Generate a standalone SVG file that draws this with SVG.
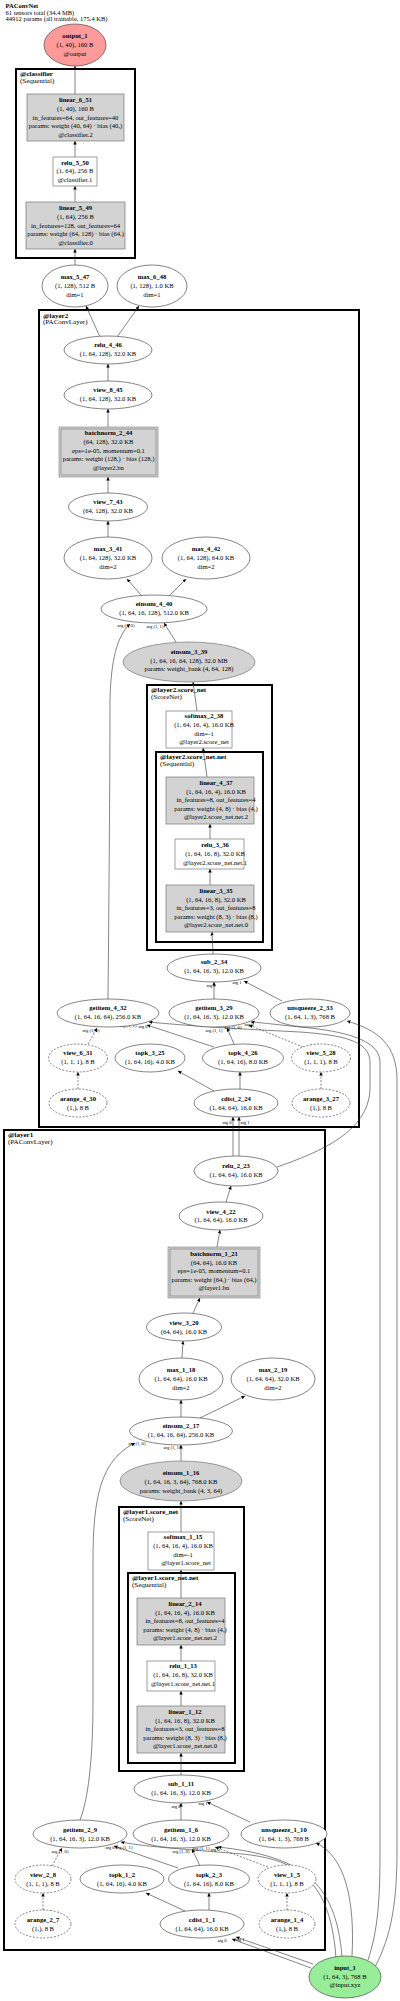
<svg xmlns="http://www.w3.org/2000/svg" width="400" height="2001" viewBox="0 0 400 2001">
<style>
text{font-family:"Liberation Serif","Times New Roman",serif;fill:#000}
.t{font-size:6.6px;text-anchor:middle}
.b{font-weight:bold}
.h{font-size:6.5px}
.cl{font-size:7px}
.el{font-size:4.6px;text-anchor:middle}
.n{fill:#fff;stroke:#333;stroke-width:0.6}
.g{fill:#d3d3d3;stroke:#777;stroke-width:0.7}
.g2{fill:#d3d3d3;stroke:#666;stroke-width:0.5}
.r{fill:#fff;stroke:#777;stroke-width:0.7}
.d{fill:#fff;stroke:#333;stroke-width:0.6;stroke-dasharray:2,1.5}
.c{fill:none;stroke:#000;stroke-width:2}
.e{fill:none;stroke:#333;stroke-width:0.6;marker-end:url(#a)}
.ed{fill:none;stroke:#333;stroke-width:0.6;stroke-dasharray:2,1.5;marker-end:url(#a)}
</style>
<defs>
<marker id="a" viewBox="0 0 10 10" refX="10" refY="5" markerWidth="3.5" markerHeight="3.5" orient="auto" markerUnits="userSpaceOnUse"><path d="M0,0 L10,5 L0,10 z" fill="#000"/></marker>
</defs>
<rect width="400" height="2001" fill="#fff"/>
<g id="title">
<text class="h b" x="5.5" y="8.3">PAConvNet</text>
<text class="h" x="5.5" y="14.6">61 tensors total (34.4 MB)</text>
<text class="h" x="5.5" y="21.2">44912 params (all trainable, 175.4 KB)</text>
</g>
<g id="clusters">
<rect class="c" x="16" y="69" width="119" height="189"/>
<text class="cl b" x="20" y="76">@classifier</text><text class="cl" x="20" y="82.5">(Sequential)</text>
<rect class="c" x="39" y="310" width="320" height="817"/>
<text class="cl b" x="43" y="317.5">@layer2</text><text class="cl" x="43" y="323.8">(PAConvLayer)</text>
<rect class="c" x="147" y="685" width="125" height="265"/>
<text class="cl b" x="151" y="692.3">@layer2.score_net</text><text class="cl" x="151" y="698.6">(ScoreNet)</text>
<rect class="c" x="156" y="752" width="107" height="190"/>
<text class="cl b" x="160" y="759.3">@layer2.score_net.net</text><text class="cl" x="160" y="765.6">(Sequential)</text>
<rect class="c" x="4" y="1130" width="321" height="820"/>
<text class="cl b" x="8" y="1137.3">@layer1</text><text class="cl" x="8" y="1143.6">(PAConvLayer)</text>
<rect class="c" x="119" y="1507" width="125" height="264"/>
<text class="cl b" x="123" y="1514.3">@layer1.score_net</text><text class="cl" x="123" y="1520.6">(ScoreNet)</text>
<rect class="c" x="128" y="1573" width="107" height="190"/>
<text class="cl b" x="132" y="1580.3">@layer1.score_net.net</text><text class="cl" x="132" y="1586.6">(Sequential)</text>
</g>
<g id="edges">
<path class="e" d="M75,94 L75,66"/>
<path class="e" d="M75,157 L75,141"/>
<path class="e" d="M75,202 L75,186"/>
<path class="e" d="M75,265 L75,249"/>
<path class="e" d="M100,337 L86,306"/>
<path class="e" d="M117,337 L139,306"/>
<path class="e" d="M108,381 L108,364"/>
<path class="e" d="M108,427 L108,409"/>
<path class="e" d="M108,493 L108,477"/>
<path class="e" d="M108,537 L108,521"/>
<path class="e" d="M142,596 L127,579"/>
<path class="e" d="M169,596 L186,579"/>
<path class="e" d="M176,642 L164,623"/>
<path class="e" d="M108,999 C109,900 110,760 110,700 C111,660 117,636 130,624"/>
<path class="e" d="M197,711 L193,682"/>
<path class="e" d="M207,777 L203,748"/>
<path class="e" d="M210,839 L210,824"/>
<path class="e" d="M210,885 L210,869"/>
<path class="e" d="M213,954 L212,932"/>
<path class="e" d="M214,999 L214,982"/>
<path class="e" d="M282,1001 L244,981"/>
<path class="ed" d="M88,1044 L97,1028"/>
<path class="e" d="M214,1047 L147,1025"/>
<path class="e" d="M234,1044 L227,1028"/>
<path class="ed" d="M303,1047 L249,1025"/>
<path class="e" d="M214,1091 L178,1071"/>
<path class="e" d="M240,1089 L240,1072"/>
<path class="ed" d="M78,1089 L78,1072"/>
<path class="ed" d="M321,1089 L321,1072"/>
<path class="e" d="M233,1156 L233,1117"/>
<path class="e" d="M239,1156 L239,1117"/>
<path class="e" d="M277,1167 C320,1152 368,1132 370,1090 L370,1062 C370,1040 340,1035 300,1032 C240,1029 190,1026 149,1022"/>
<path class="e" d="M368,1960 C378,1930 380,1900 380,1850 L380,1062 C380,1040 345,1031 300,1027 C280,1025 265,1023 251,1022"/>
<path class="e" d="M375,1967 C392,1935 397,1900 397,1850 L397,1080 C397,1045 378,1030 347,1021"/>
<path class="e" d="M226,1202 L231,1186"/>
<path class="e" d="M217,1247 L220,1230"/>
<path class="e" d="M193,1313 L200,1298"/>
<path class="e" d="M182,1358 L183,1341"/>
<path class="e" d="M181,1417 L181,1400"/>
<path class="e" d="M200,1418 L245,1396"/>
<path class="e" d="M181,1461 L181,1445"/>
<path class="e" d="M80,1820 C88,1800 93,1760 93,1700 L93,1560 C93,1500 100,1460 135,1443"/>
<path class="e" d="M181,1532 L181,1501"/>
<path class="e" d="M181,1598 L181,1570"/>
<path class="e" d="M181,1661 L181,1645"/>
<path class="e" d="M181,1706 L181,1691"/>
<path class="e" d="M181,1775 L181,1753"/>
<path class="e" d="M181,1820 L181,1803"/>
<path class="e" d="M250,1822 L207,1802"/>
<path class="ed" d="M52,1866 L62,1848"/>
<path class="e" d="M178,1868 L114,1846"/>
<path class="e" d="M200,1866 L192,1849"/>
<path class="ed" d="M268,1867 L215,1847"/>
<path class="e" d="M185,1911 L146,1893"/>
<path class="e" d="M209,1910 L209,1893"/>
<path class="ed" d="M43,1910 L43,1893"/>
<path class="ed" d="M287,1910 L287,1893"/>
<path class="e" d="M313,1964 L236,1937"/>
<path class="e" d="M311,1968 L232,1939"/>
<path class="e" d="M352,1956 C355,1900 345,1856 316,1843"/>
<path class="e" d="M342,1957 C336,1880 300,1856 218,1847"/>
<path class="e" d="M336,1958 C330,1872 290,1857 230,1853 C180,1849 140,1846 121,1842"/>
</g>
<g id="edge-labels">
<text class="el" x="126" y="627">arg (1, 0)</text>
<text class="el" x="155" y="628">arg (1, 1)</text>
<text class="el" x="211" y="987">arg 0</text>
<text class="el" x="237" y="984">arg 1</text>
<text class="el" x="91" y="1032">arg (1, 0)</text>
<text class="el" x="128" y="1027">arg (1, 1)</text>
<text class="el" x="143" y="1028">arg 0</text>
<text class="el" x="214" y="1032">arg (1, 1)</text>
<text class="el" x="233" y="1029">arg (1, 0)</text>
<text class="el" x="249" y="1026">arg 0</text>
<text class="el" x="227" y="1124">arg 0</text>
<text class="el" x="245" y="1124">arg 1</text>
<text class="el" x="137" y="1445">arg (1, 0)</text>
<text class="el" x="172" y="1449">arg (1, 1)</text>
<text class="el" x="176" y="1808">arg 0</text>
<text class="el" x="203" y="1805">arg 1</text>
<text class="el" x="60" y="1853">arg (1, 0)</text>
<text class="el" x="110" y="1849">arg 0</text>
<text class="el" x="124" y="1849">arg (1, 1)</text>
<text class="el" x="181" y="1853">arg (1, 0)</text>
<text class="el" x="201" y="1850">arg (1, 1)</text>
<text class="el" x="215" y="1851">arg 0</text>
<text class="el" x="222" y="1942">arg 0</text>
<text class="el" x="240" y="1941">arg 1</text>
</g>
<g id="output_1"><ellipse cx="75" cy="45" rx="31" ry="21" fill="#ff9a9a" stroke="#333" stroke-width="0.6"/>
<text class="t b" x="75" y="38.3">output_1</text><text class="t" x="75" y="47.3">(1, 40), 160 B</text><text class="t" x="75" y="56.3">@output</text></g>
<g id="linear_6_51"><rect class="g" x="27" y="94" width="97" height="47"/>
<text class="t b" x="75.5" y="102.3">linear_6_51</text><text class="t" x="75.5" y="111.3">(1, 40), 160 B</text><text class="t" x="75.5" y="120.3">in_features=64, out_features=40</text><text class="t" x="75.5" y="128.3">params: weight (40, 64) · bias (40,)</text><text class="t" x="75.5" y="137.3">@classifier.2</text></g>
<g id="relu_5_50"><rect class="r" x="53" y="157" width="44" height="29"/>
<text class="t b" x="75" y="165.3">relu_5_50</text><text class="t" x="75" y="173.3">(1, 64), 256 B</text><text class="t" x="75" y="182.3">@classifier.1</text></g>
<g id="linear_5_49"><rect class="g" x="26" y="202" width="99" height="47"/>
<text class="t b" x="75.5" y="210.3">linear_5_49</text><text class="t" x="75.5" y="219.3">(1, 64), 256 B</text><text class="t" x="75.5" y="228.3">in_features=128, out_features=64</text><text class="t" x="75.5" y="236.3">params: weight (64, 128) · bias (64,)</text><text class="t" x="75.5" y="245.3">@classifier.0</text></g>
<g id="max_5_47"><ellipse class="n" cx="75" cy="286" rx="33" ry="21"/>
<text class="t b" x="75" y="279.3">max_5_47</text><text class="t" x="75" y="288.3">(1, 128), 512 B</text><text class="t" x="75" y="297.3">dim=1</text></g>
<g id="max_6_48"><ellipse class="n" cx="152" cy="286" rx="35" ry="21"/>
<text class="t b" x="152" y="279.3">max_6_48</text><text class="t" x="152" y="288.3">(1, 128), 1.0 KB</text><text class="t" x="152" y="297.3">dim=1</text></g>
<g id="relu_4_46"><ellipse class="n" cx="108" cy="350" rx="44" ry="14"/>
<text class="t b" x="108" y="347.3">relu_4_46</text><text class="t" x="108" y="356.3">(1, 64, 128), 32.0 KB</text></g>
<g id="view_8_45"><ellipse class="n" cx="108" cy="395" rx="44" ry="14"/>
<text class="t b" x="108" y="392.3">view_8_45</text><text class="t" x="108" y="401.3">(1, 64, 128), 32.0 KB</text></g>
<g id="batchnorm_2_44"><rect class="g2" x="59" y="427" width="99" height="50"/><rect fill="none" stroke="#666" stroke-width="0.5" x="61" y="429" width="95" height="46"/>
<text class="t b" x="108.5" y="435.3">batchnorm_2_44</text><text class="t" x="108.5" y="444.3">(64, 128), 32.0 KB</text><text class="t" x="108.5" y="453.3">eps=1e-05, momentum=0.1</text><text class="t" x="108.5" y="461.3">params: weight (128,) · bias (128,)</text><text class="t" x="108.5" y="470.3">@layer2.bn</text></g>
<g id="view_7_43"><ellipse class="n" cx="108" cy="507" rx="39.5" ry="14"/>
<text class="t b" x="108" y="504.3">view_7_43</text><text class="t" x="108" y="513.3">(64, 128), 32.0 KB</text></g>
<g id="max_3_41"><ellipse class="n" cx="108" cy="558" rx="44" ry="21"/>
<text class="t b" x="108" y="551.3">max_3_41</text><text class="t" x="108" y="560.3">(1, 64, 128), 32.0 KB</text><text class="t" x="108" y="569.3">dim=2</text></g>
<g id="max_4_42"><ellipse class="n" cx="206" cy="558" rx="44" ry="21"/>
<text class="t b" x="206" y="551.3">max_4_42</text><text class="t" x="206" y="560.3">(1, 64, 128), 64.0 KB</text><text class="t" x="206" y="569.3">dim=2</text></g>
<g id="einsum_4_40"><ellipse class="n" cx="154" cy="609" rx="53" ry="14"/>
<text class="t b" x="154" y="606.3">einsum_4_40</text><text class="t" x="154" y="615.3">(1, 64, 16, 128), 512.0 KB</text></g>
<g id="einsum_3_39"><ellipse class="g" cx="189" cy="662" rx="66" ry="20" stroke="#333"/>
<text class="t b" x="189" y="654.3">einsum_3_39</text><text class="t" x="189" y="663.3">(1, 64, 16, 64, 128), 32.0 MB</text><text class="t" x="189" y="671.3">params: weight_bank (4, 64, 128)</text></g>
<g id="softmax_2_38"><rect class="r" x="166" y="711" width="66" height="37"/>
<text class="t b" x="204" y="718.3">softmax_2_38</text><text class="t" x="204" y="727.3">(1, 64, 16, 4), 16.0 KB</text><text class="t" x="204" y="736.3">dim=-1</text><text class="t" x="204" y="744.3">@layer2.score_net</text></g>
<g id="linear_4_37"><rect class="g" x="166" y="777" width="88" height="47"/>
<text class="t b" x="216" y="785.3">linear_4_37</text><text class="t" x="216" y="794.3">(1, 64, 16, 4), 16.0 KB</text><text class="t" x="216" y="802.3">in_features=8, out_features=4</text><text class="t" x="216" y="811.3">params: weight (4, 8) · bias (4,)</text><text class="t" x="216" y="819.3">@layer2.score_net.net.2</text></g>
<g id="relu_3_36"><rect class="r" x="175" y="839" width="69" height="30"/>
<text class="t b" x="215" y="847.3">relu_3_36</text><text class="t" x="215" y="856.3">(1, 64, 16, 8), 32.0 KB</text><text class="t" x="215" y="865.3">@layer2.score_net.net.1</text></g>
<g id="linear_3_35"><rect class="g" x="166" y="885" width="88" height="47"/>
<text class="t b" x="216" y="893.3">linear_3_35</text><text class="t" x="216" y="902.3">(1, 64, 16, 8), 32.0 KB</text><text class="t" x="216" y="910.3">in_features=3, out_features=8</text><text class="t" x="216" y="919.3">params: weight (8, 3) · bias (8,)</text><text class="t" x="216" y="927.3">@layer2.score_net.net.0</text></g>
<g id="sub_2_34"><ellipse class="n" cx="214" cy="968" rx="47" ry="14"/>
<text class="t b" x="214" y="964.3">sub_2_34</text><text class="t" x="214" y="973.3">(1, 64, 16, 3), 12.0 KB</text></g>
<g id="getitem_4_32"><ellipse class="n" cx="108" cy="1013" rx="51" ry="14"/>
<text class="t b" x="108" y="1010.3">getitem_4_32</text><text class="t" x="108" y="1019.3">(1, 64, 16, 64), 256.0 KB</text></g>
<g id="getitem_3_29"><ellipse class="n" cx="214" cy="1013" rx="45" ry="14"/>
<text class="t b" x="214" y="1010.3">getitem_3_29</text><text class="t" x="214" y="1019.3">(1, 64, 16, 3), 12.0 KB</text></g>
<g id="unsqueeze_2_33"><ellipse class="n" cx="310" cy="1013" rx="40" ry="14"/>
<text class="t b" x="310" y="1010.3">unsqueeze_2_33</text><text class="t" x="310" y="1019.3">(1, 64, 1, 3), 768 B</text></g>
<g id="view_6_31"><ellipse class="d" cx="78" cy="1058" rx="29.5" ry="14"/>
<text class="t b" x="78" y="1055.3">view_6_31</text><text class="t" x="78" y="1064.3">(1, 1, 1), 8 B</text></g>
<g id="topk_3_25"><ellipse class="n" cx="150" cy="1058" rx="35" ry="14"/>
<text class="t b" x="150" y="1055.3">topk_3_25</text><text class="t" x="150" y="1064.3">(1, 64, 16), 4.0 KB</text></g>
<g id="topk_4_26"><ellipse class="n" cx="243" cy="1058" rx="40.5" ry="14"/>
<text class="t b" x="243" y="1055.3">topk_4_26</text><text class="t" x="243" y="1064.3">(1, 64, 16), 8.0 KB</text></g>
<g id="view_5_28"><ellipse class="d" cx="321" cy="1058" rx="29.5" ry="14"/>
<text class="t b" x="321" y="1055.3">view_5_28</text><text class="t" x="321" y="1064.3">(1, 1, 1), 8 B</text></g>
<g id="arange_4_30"><ellipse class="d" cx="78" cy="1103" rx="29" ry="14"/>
<text class="t b" x="78" y="1101.3">arange_4_30</text><text class="t" x="78" y="1110.3">(1,), 8 B</text></g>
<g id="cdist_2_24"><ellipse class="n" cx="236" cy="1103" rx="42" ry="14"/>
<text class="t b" x="236" y="1101.3">cdist_2_24</text><text class="t" x="236" y="1110.3">(1, 64, 64), 16.0 KB</text></g>
<g id="arange_3_27"><ellipse class="d" cx="321" cy="1103" rx="29" ry="14"/>
<text class="t b" x="321" y="1101.3">arange_3_27</text><text class="t" x="321" y="1110.3">(1,), 8 B</text></g>
<g id="relu_2_23"><ellipse class="n" cx="236" cy="1171" rx="42" ry="15"/>
<text class="t b" x="236" y="1168.3">relu_2_23</text><text class="t" x="236" y="1177.3">(1, 64, 64), 16.0 KB</text></g>
<g id="view_4_22"><ellipse class="n" cx="221" cy="1216" rx="42" ry="14"/>
<text class="t b" x="221" y="1214.3">view_4_22</text><text class="t" x="221" y="1222.3">(1, 64, 64), 16.0 KB</text></g>
<g id="batchnorm_1_21"><rect class="g2" x="168" y="1247" width="92" height="51"/><rect fill="none" stroke="#666" stroke-width="0.5" x="170" y="1249" width="88" height="47"/>
<text class="t b" x="214" y="1256.3">batchnorm_1_21</text><text class="t" x="214" y="1265.3">(64, 64), 16.0 KB</text><text class="t" x="214" y="1273.3">eps=1e-05, momentum=0.1</text><text class="t" x="214" y="1282.3">params: weight (64,) · bias (64,)</text><text class="t" x="214" y="1290.3">@layer1.bn</text></g>
<g id="view_3_20"><ellipse class="n" cx="184" cy="1327" rx="37.5" ry="14"/>
<text class="t b" x="184" y="1325.3">view_3_20</text><text class="t" x="184" y="1334.3">(64, 64), 16.0 KB</text></g>
<g id="max_1_18"><ellipse class="n" cx="181" cy="1379" rx="42" ry="21"/>
<text class="t b" x="181" y="1372.3">max_1_18</text><text class="t" x="181" y="1381.3">(1, 64, 64), 16.0 KB</text><text class="t" x="181" y="1390.3">dim=2</text></g>
<g id="max_2_19"><ellipse class="n" cx="273" cy="1379" rx="42" ry="21"/>
<text class="t b" x="273" y="1372.3">max_2_19</text><text class="t" x="273" y="1381.3">(1, 64, 64), 32.0 KB</text><text class="t" x="273" y="1390.3">dim=2</text></g>
<g id="einsum_2_17"><ellipse class="n" cx="181" cy="1431" rx="51.5" ry="14"/>
<text class="t b" x="181" y="1428.3">einsum_2_17</text><text class="t" x="181" y="1437.3">(1, 64, 16, 64), 256.0 KB</text></g>
<g id="einsum_1_16"><ellipse class="g" cx="181" cy="1481" rx="61" ry="20" stroke="#333"/>
<text class="t b" x="181" y="1475.3">einsum_1_16</text><text class="t" x="181" y="1484.3">(1, 64, 16, 3, 64), 768.0 KB</text><text class="t" x="181" y="1493.3">params: weight_bank (4, 3, 64)</text></g>
<g id="softmax_1_15"><rect class="r" x="148" y="1532" width="66" height="38"/>
<text class="t b" x="183" y="1539.3">softmax_1_15</text><text class="t" x="183" y="1548.3">(1, 64, 16, 4), 16.0 KB</text><text class="t" x="183" y="1557.3">dim=-1</text><text class="t" x="186" y="1565.3">@layer1.score_net</text></g>
<g id="linear_2_14"><rect class="g" x="137" y="1598" width="88" height="47"/>
<text class="t b" x="185" y="1606.3">linear_2_14</text><text class="t" x="185" y="1615.3">(1, 64, 16, 4), 16.0 KB</text><text class="t" x="185" y="1623.3">in_features=8, out_features=4</text><text class="t" x="185" y="1632.3">params: weight (4, 8) · bias (4,)</text><text class="t" x="185" y="1640.3">@layer1.score_net.net.2</text></g>
<g id="relu_1_13"><rect class="r" x="147" y="1661" width="68" height="30"/>
<text class="t b" x="183" y="1668.3">relu_1_13</text><text class="t" x="183" y="1677.3">(1, 64, 16, 8), 32.0 KB</text><text class="t" x="183" y="1686.3">@layer1.score_net.net.1</text></g>
<g id="linear_1_12"><rect class="g" x="137" y="1706" width="88" height="47"/>
<text class="t b" x="185" y="1714.3">linear_1_12</text><text class="t" x="185" y="1723.3">(1, 64, 16, 8), 32.0 KB</text><text class="t" x="185" y="1731.3">in_features=3, out_features=8</text><text class="t" x="185" y="1740.3">params: weight (8, 3) · bias (8,)</text><text class="t" x="185" y="1748.3">@layer1.score_net.net.0</text></g>
<g id="sub_1_11"><ellipse class="n" cx="181" cy="1789" rx="47" ry="14"/>
<text class="t b" x="181" y="1786.3">sub_1_11</text><text class="t" x="181" y="1795.3">(1, 64, 16, 3), 12.0 KB</text></g>
<g id="getitem_2_9"><ellipse class="n" cx="80" cy="1834" rx="47" ry="14"/>
<text class="t b" x="80" y="1832.3">getitem_2_9</text><text class="t" x="80" y="1841.3">(1, 64, 16, 3), 12.0 KB</text></g>
<g id="getitem_1_6"><ellipse class="n" cx="181" cy="1834" rx="48" ry="14"/>
<text class="t b" x="181" y="1832.3">getitem_1_6</text><text class="t" x="181" y="1841.3">(1, 64, 16, 3), 12.0 KB</text></g>
<g id="unsqueeze_1_10"><ellipse class="n" cx="284" cy="1834" rx="43" ry="14"/>
<text class="t b" x="284" y="1832.3">unsqueeze_1_10</text><text class="t" x="284" y="1841.3">(1, 64, 1, 3), 768 B</text></g>
<g id="view_2_8"><ellipse class="d" cx="43" cy="1879" rx="28" ry="14"/>
<text class="t b" x="43" y="1877.3">view_2_8</text><text class="t" x="43" y="1886.3">(1, 1, 1), 8 B</text></g>
<g id="topk_1_2"><ellipse class="n" cx="122" cy="1879" rx="42" ry="14"/>
<text class="t b" x="122" y="1877.3">topk_1_2</text><text class="t" x="122" y="1886.3">(1, 64, 16), 4.0 KB</text></g>
<g id="topk_2_3"><ellipse class="n" cx="209" cy="1879" rx="40.5" ry="14"/>
<text class="t b" x="209" y="1877.3">topk_2_3</text><text class="t" x="209" y="1886.3">(1, 64, 16), 8.0 KB</text></g>
<g id="view_1_5"><ellipse class="d" cx="287" cy="1879" rx="29" ry="14"/>
<text class="t b" x="287" y="1877.3">view_1_5</text><text class="t" x="287" y="1886.3">(1, 1, 1), 8 B</text></g>
<g id="arange_2_7"><ellipse class="d" cx="43" cy="1924" rx="28" ry="14"/>
<text class="t b" x="43" y="1922.3">arange_2_7</text><text class="t" x="43" y="1931.3">(1,), 8 B</text></g>
<g id="cdist_1_1"><ellipse class="n" cx="202" cy="1924" rx="42" ry="14"/>
<text class="t b" x="202" y="1922.3">cdist_1_1</text><text class="t" x="202" y="1931.3">(1, 64, 64), 16.0 KB</text></g>
<g id="arange_1_4"><ellipse class="d" cx="287" cy="1924" rx="28" ry="14"/>
<text class="t b" x="287" y="1922.3">arange_1_4</text><text class="t" x="287" y="1931.3">(1,), 8 B</text></g>
<g id="input_1"><ellipse cx="345" cy="1977" rx="36" ry="21" fill="#98ee98" stroke="#333" stroke-width="0.6"/>
<text class="t b" x="345" y="1970.3">input_1</text><text class="t" x="345" y="1979.3">(1, 64, 3), 768 B</text><text class="t" x="345" y="1987.3">@input.xyz</text></g>
</svg>
